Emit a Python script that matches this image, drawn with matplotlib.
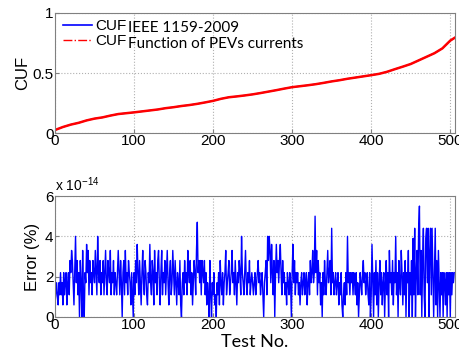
import numpy as np
import matplotlib.pyplot as plt
from matplotlib.lines import Line2D

# CUF sampled every 10 tests (last sample at test 506)
cuf_tests = [0, 10, 20, 30, 40, 50, 60, 70, 80, 90,
             100, 110, 120, 130, 140, 150, 160, 170, 180, 190,
             200, 210, 220, 230, 240, 250, 260, 270, 280, 290,
             300, 310, 320, 330, 340, 350, 360, 370, 380, 390,
             400, 410, 420, 430, 440, 450, 460, 470, 480, 490,
             500, 506]
cuf_values = [0.025, 0.05, 0.07, 0.085, 0.105, 0.12, 0.13, 0.145, 0.158, 0.165,
              0.172, 0.18, 0.188, 0.196, 0.207, 0.215, 0.225, 0.233, 0.243, 0.255,
              0.268, 0.285, 0.298, 0.305, 0.313, 0.322, 0.333, 0.345, 0.357, 0.37,
              0.382, 0.39, 0.398, 0.407, 0.418, 0.43, 0.44, 0.452, 0.462, 0.472,
              0.482, 0.493, 0.51, 0.532, 0.553, 0.575, 0.605, 0.635, 0.665, 0.705,
              0.77, 0.795]

# error between the two CUF methods, in units of 1e-14 %
error_e14 = [
    0.6, 1.1, 1.7, 1.1, 0.6, 1.7, 1.1, 2.2, 1.1, 1.7, 0.6, 2.2, 1.1, 1.7, 2.2, 0.6, 1.7, 2.2, 1.1, 2.8,
    2.2, 3.3, 2.8, 1.7, 0.6, 2.2, 4.0, 1.7, 2.8, 1.1, 2.2, 0.0, 2.8, 1.7, 0.0, 3.3, 1.1, 0.0, 2.2, 1.7,
    3.6, 2.2, 3.3, 1.1, 2.8, 1.7, 2.2, 1.1, 2.8, 2.2, 1.7, 3.3, 2.2, 1.1, 4.0, 2.2, 1.7, 2.8, 1.1, 2.2,
    1.7, 2.8, 1.1, 2.2, 3.3, 1.7, 1.1, 2.8, 2.2, 1.7, 3.3, 1.1, 2.2, 1.7, 2.8, 1.1, 2.2, 1.7, 1.1, 2.2,
    3.3, 2.2, 1.1, 2.8, 1.7, 0.0, 2.2, 2.8, 1.1, 3.3, 1.7, 2.2, 1.1, 2.8, 2.2, 1.7, 0.6, 2.2, 1.1, 0.0,
    2.2, 1.1, 2.8, 1.7, 3.6, 2.2, 1.1, 2.8, 1.7, 0.6, 2.2, 3.3, 1.7, 1.1, 2.8, 2.2, 1.1, 0.6, 2.2, 1.7,
    3.6, 1.7, 1.1, 2.8, 2.2, 0.6, 3.3, 1.7, 2.2, 1.1, 2.8, 3.3, 1.7, 0.6, 2.2, 3.3, 1.1, 2.2, 1.7, 2.8,
    1.1, 2.2, 3.3, 1.7, 0.6, 2.2, 2.8, 1.1, 1.7, 3.3, 2.2, 1.1, 2.8, 1.7, 0.6, 2.2, 1.7, 1.1, 2.8, 0.6,
    0.0, 1.7, 2.2, 1.1, 2.8, 1.7, 2.2, 1.1, 3.3, 2.2, 1.7, 2.8, 1.1, 2.2, 0.6, 1.7, 2.8, 2.2, 1.1, 3.3,
    4.7, 2.2, 2.8, 1.7, 2.8, 1.1, 2.8, 2.2, 1.7, 2.8, 1.1, 2.2, 0.6, 1.7, 1.1, 0.0, 2.8, 1.1, 0.0, 1.7,
    1.1, 2.2, 0.6, 1.1, 0.0, 1.7, 1.1, 2.2, 0.6, 2.8, 1.7, 1.1, 2.2, 0.6, 1.7, 2.2, 3.3, 1.1, 1.7, 2.2,
    2.8, 1.1, 1.7, 2.2, 3.3, 1.7, 2.2, 1.1, 2.8, 1.7, 0.6, 2.2, 1.7, 2.8, 2.2, 1.1, 4.0, 2.2, 1.7, 1.1,
    2.2, 3.3, 1.7, 1.1, 2.2, 1.7, 2.8, 1.1, 1.7, 2.2, 1.7, 1.1, 1.7, 2.2, 1.1, 1.7, 2.2, 2.8, 1.7, 2.2,
    1.1, 1.7, 2.2, 1.1, 0.0, 1.7, 2.2, 2.8, 1.1, 4.0, 2.8, 4.0, 3.3, 1.7, 3.6, 2.2, 1.1, 2.8, 0.0, 2.2,
    3.6, 2.2, 2.8, 1.7, 2.8, 3.6, 2.2, 1.1, 2.8, 1.7, 2.2, 1.1, 1.7, 0.6, 2.2, 1.7, 1.1, 2.2, 1.7, 0.0,
    2.2, 3.6, 1.7, 2.8, 1.1, 2.2, 1.7, 2.2, 1.1, 1.7, 0.6, 1.7, 2.2, 1.1, 1.7, 2.2, 1.1, 1.7, 2.2, 0.6,
    1.7, 2.2, 1.1, 2.8, 1.7, 2.2, 3.3, 1.7, 2.2, 5.0, 2.2, 3.3, 1.1, 2.8, 1.7, 2.2, 0.6, 1.7, 0.0, 2.2,
    1.1, 2.8, 1.7, 1.1, 2.2, 3.3, 1.7, 2.2, 2.8, 1.1, 4.4, 1.7, 2.2, 1.1, 1.7, 2.2, 1.1, 1.7, 2.2, 0.6,
    1.7, 1.1, 2.2, 0.6, 0.0, 1.1, 1.7, 0.6, 2.2, 1.1, 4.0, 1.7, 2.2, 1.1, 2.2, 1.7, 2.2, 1.1, 2.2, 1.7,
    1.1, 2.2, 0.6, 1.7, 0.0, 1.1, 2.2, 1.7, 1.1, 2.2, 2.8, 1.7, 2.2, 1.1, 1.7, 2.2, 1.1, 0.6, 2.2, 0.0,
    1.1, 3.6, 1.7, 0.0, 2.2, 1.1, 2.8, 0.6, 2.2, 0.0, 1.7, 2.8, 1.1, 2.2, 0.6, 1.7, 2.2, 0.0, 1.7, 2.8,
    1.1, 2.2, 0.0, 3.3, 1.7, 2.2, 1.1, 2.8, 0.6, 2.2, 1.7, 4.0, 1.1, 2.2, 0.0, 2.8, 1.7, 1.1, 3.3, 2.2,
    0.6, 2.2, 1.1, 2.8, 0.0, 2.2, 1.7, 3.3, 0.0, 2.2, 1.1, 2.8, 0.0, 3.9, 1.1, 4.4, 0.0, 2.2, 3.3, 1.1,
    4.4, 5.5, 1.1, 3.3, 0.0, 2.8, 4.4, 1.1, 0.0, 3.9, 4.4, 1.7, 4.4, 0.0, 3.3, 4.4, 1.1, 4.4, 2.2, 0.0,
    2.2, 4.4, 0.6, 2.8, 0.0, 3.3, 1.7, 0.0, 2.2, 1.1, 2.2, 0.0, 2.2, 1.7, 0.6, 2.2, 0.0, 2.2, 1.1, 2.2,
    0.0, 2.2, 1.1, 2.2, 1.7, 2.2,
]
test_no = np.arange(len(error_e14))

plt.rcParams['font.family'] = 'Liberation Sans'
plt.rcParams['font.size'] = 11

fig = plt.figure(figsize=(4.59, 3.59), dpi=100)
ax1 = fig.add_axes([0.1198, 0.6295, 0.8715, 0.3343])
ax2 = fig.add_axes([0.1198, 0.117, 0.8715, 0.337])

# CUF: both methods give the same curve, red drawn on top of blue
ax1.plot(cuf_tests, cuf_values, color='blue', lw=1.0)
ax1.plot(cuf_tests, cuf_values, color='red', lw=1.8)
ax1.set_xlim(0, 506)
ax1.set_ylim(0, 1)
ax1.set_yticks([0, 0.5, 1])
ax1.set_yticklabels(['0', '0.5', '1'])
ax1.set_ylabel('CUF', fontsize=12, labelpad=2)

handles = [Line2D([], [], color='blue', lw=1.2),
           Line2D([], [], color='red', lw=1.0, ls='-.')]
ax1.legend(handles, ['CUF', 'CUF'], loc='upper left', frameon=False,
           fontsize=11, handlelength=1.9, handletextpad=0.2, labelspacing=0.05,
           borderaxespad=0.2, borderpad=0.2, bbox_to_anchor=(0.005, 1.0))
ax1.text(0.183, 0.875, 'IEEE 1159-2009', transform=ax1.transAxes,
         family='Lato', fontsize=11, va='center')
ax1.text(0.183, 0.745, 'Function of PEVs currents', transform=ax1.transAxes,
         family='Lato', fontsize=11, va='center')

ax2.plot(test_no, error_e14, color='blue', lw=1.0)
ax2.set_xlim(0, 506)
ax2.set_ylim(0, 6)
ax2.set_yticks([0, 2, 4, 6])
ax2.set_ylabel('Error (%)', fontsize=12, labelpad=4)
ax2.set_xlabel('Test No.', family='Lato', fontsize=13, labelpad=1)
ax2.text(0.0, 1.02, r'x 10$^{\mathregular{-14}}$', transform=ax2.transAxes,
         fontsize=10, va='bottom', ha='left')

for ax in (ax1, ax2):
    ax.set_xticks([0, 100, 200, 300, 400, 500])
    ax.grid(True, color='#b0b0b0', ls=':', lw=0.8)
    ax.tick_params(direction='in', length=3, color='#808080', pad=1)
    for s in ax.spines.values():
        s.set_color('#808080')

fig.savefig('out.png', dpi=100)
